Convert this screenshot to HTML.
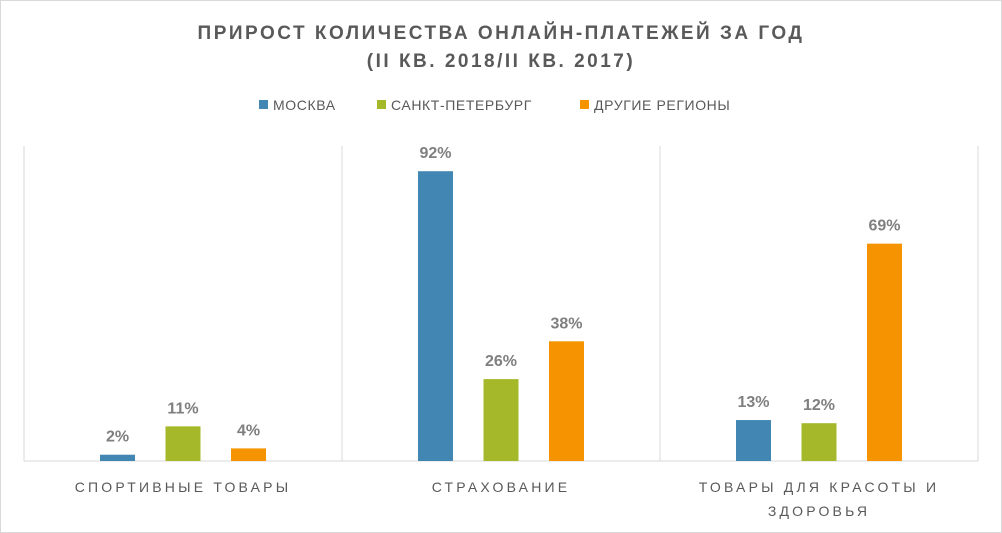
<!DOCTYPE html>
<html><head><meta charset="utf-8"><style>
body{margin:0;background:#fff;font-family:"Liberation Sans","DejaVu Sans",sans-serif}
#wrap{position:relative;width:1002px;height:533px;overflow:hidden;background:#fff}
</style></head><body>
<div id="wrap">
<svg id="svg" width="1002" height="533">
<rect x="0.5" y="0.5" width="1001" height="532" fill="#fff" stroke="#d9d9d9" stroke-width="1"/>
<text x="501" y="39" text-anchor="middle" font-size="19" font-weight="bold" fill="#595959" letter-spacing="2.5">ПРИРОСТ КОЛИЧЕСТВА ОНЛАЙН-ПЛАТЕЖЕЙ ЗА ГОД</text>
<text x="501" y="67" text-anchor="middle" font-size="19" font-weight="bold" fill="#595959" letter-spacing="2.5">(II КВ. 2018/II КВ. 2017)</text>
<g id="legend"></g>
<g id="plot"></g>
</svg>
</div>
<script>
const categories=[["СПОРТИВНЫЕ ТОВАРЫ"],["СТРАХОВАНИЕ"],["ТОВАРЫ ДЛЯ КРАСОТЫ И","ЗДОРОВЬЯ"]];
const seriesNames=["МОСКВА","САНКТ-ПЕТЕРБУРГ","ДРУГИЕ РЕГИОНЫ"];
const moscow=[2,92,13];
const spb=[11,26,12];
const other=[4,38,69];
const colors=["#4287b3","#a5b829","#f59300"];
const series=[moscow,spb,other];
const NS="http://www.w3.org/2000/svg";
const plot=document.getElementById('plot'),legend=document.getElementById('legend');
const L=24,R=978,T=146,B=461,MAX=100;
const catW=(R-L)/categories.length;
function y(v){return B-(v/MAX)*(B-T);}
function xc(i){return L+catW*(i+0.5);}
function mk(tag,attrs,parent){const e=document.createElementNS(NS,tag);for(const k in attrs)e.setAttribute(k,attrs[k]);parent.appendChild(e);return e;}
for(let i=0;i<=categories.length;i++){
  const l=mk('line',{x1:L+catW*i,x2:L+catW*i,y1:T,y2:B,stroke:'#d9d9d9'},plot);
  
  
}
const base=mk('line',{x1:L,x2:R,y1:B,y2:B,stroke:'#d9d9d9'},plot);


const bw=35,gap=65.5;
categories.forEach((c,i)=>{
  series.forEach((s,j)=>{
    const cx=xc(i)+(j-1)*gap;
    const r=mk('rect',{x:cx-bw/2,y:y(s[i]),width:bw,height:B-y(s[i]),fill:colors[j]},plot);
    
    
    const t=mk('text',{x:cx,y:y(s[i])-13,'text-anchor':'middle','font-size':16,'font-weight':'bold',fill:'#7f7f7f'},plot);
    t.textContent=s[i]+'%';
    
    
  });
  c.forEach((line,k)=>{
    const t=mk('text',{x:xc(i),y:492+k*24,'text-anchor':'middle','font-size':14,fill:'#595959','letter-spacing':3.2},plot);
    t.textContent=line;
    
    
  });
});
const lx=[259,377,580];
seriesNames.forEach((n,j)=>{
  const r=mk('rect',{x:lx[j],y:100,width:9,height:9,fill:colors[j]},legend);
  
  
  const t=mk('text',{x:lx[j]+14,y:110,'font-size':14,fill:'#595959','letter-spacing':0.6},legend);
  t.textContent=n;
  
  
});
</script>
</body></html>
